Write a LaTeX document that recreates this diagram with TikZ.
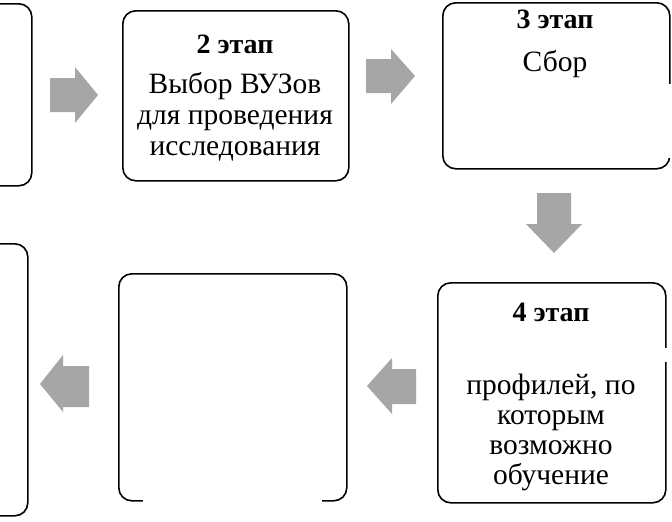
\documentclass[tikz,border=0pt]{standalone}
\usepackage{fontspec}
\setmainfont{Liberation Serif}
\definecolor{arrowgray}{RGB}{166,166,166}
\begin{document}
\begin{tikzpicture}[x=1pt,y=-1pt,
  stagebox/.style={draw=black, line width=1.6pt, rounded corners=13pt, anchor=north west, inner sep=0pt},
  blockarrow/.style={fill=arrowgray, draw=none},
  gapmask/.style={fill=white, draw=none},
  headtext/.style={font=\fontsize{28}{30}\selectfont\bfseries, anchor=base, inner sep=0pt},
  bodytext/.style={font=\fontsize{29.5}{30}\selectfont, anchor=base, inner sep=0pt},
]
\useasboundingbox (0,0) rectangle (672,522);
\fill[white] (0,0) rectangle (672,522);

% boxes
\node[stagebox, minimum width=60pt, minimum height=182pt] (b1) at (-29,3) {};
\node[stagebox, minimum width=226pt, minimum height=170pt] (b2) at (122,10) {};
\node[stagebox, minimum width=227pt, minimum height=166pt] (b3) at (442,2) {};
\node[stagebox, minimum width=228pt, minimum height=220pt] (b4) at (437,282) {};
\node[stagebox, minimum width=228pt, minimum height=227pt] (b5) at (118,273) {};
\node[stagebox, minimum width=56pt, minimum height=272pt] (b6) at (-29,243) {};

% gaps in the borders
\fill[gapmask] (455,84) rectangle (675,158);
\fill[gapmask] (450,348) rectangle (675,362);
\fill[gapmask] (143,494) rectangle (322,506);

% texts
\node[headtext] (t2h) at (235,53) {2 этап};
\node[bodytext] (t2a) at (235,93) {Выбор ВУЗов};
\node[bodytext] (t2b) at (235,124) {для проведения};
\node[bodytext] (t2c) at (235,155) {исследования};

\node[headtext] (t3h) at (555,28) {3 этап};
\node[bodytext] (t3a) at (555,71) {Сбор};

\node[headtext] (t4h) at (551,321) {4 этап};
\node[bodytext] (t4a) at (551,394) {профилей, по};
\node[bodytext] (t4b) at (551,424) {которым};
\node[bodytext] (t4c) at (551,454) {возможно};
\node[bodytext] (t4d) at (551,484) {обучение};

% block arrows
\fill[blockarrow] (50,78) -- (75,78) -- (75,67) -- (98,95) -- (75,123) -- (75,112) -- (50,112) -- cycle;
\fill[blockarrow] (366,59) -- (391,59) -- (391,49) -- (415,76) -- (391,104) -- (391,93) -- (366,93) -- cycle;
\fill[blockarrow] (537,193) -- (571,193) -- (571,224) -- (582,224) -- (554,253) -- (526,224) -- (537,224) -- cycle;
\fill[blockarrow] (416,369) -- (392,369) -- (392,358) -- (367,386) -- (392,414) -- (392,404) -- (416,404) -- cycle;
\fill[blockarrow] (89,366) -- (63,366) -- (63,355) -- (40,384) -- (63,412) -- (63,407) -- (89,407) -- cycle;
\end{tikzpicture}
\end{document}
